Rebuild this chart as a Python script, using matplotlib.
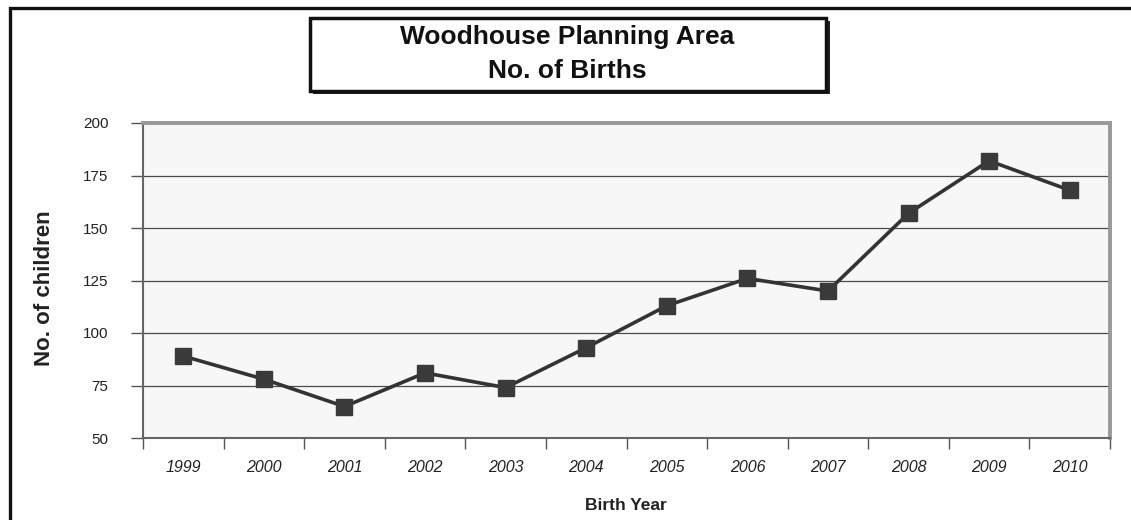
import matplotlib
matplotlib.use("Agg")
import matplotlib.pyplot as plt
from matplotlib.patches import Rectangle

years = ["1999", "2000", "2001", "2002", "2003", "2004", "2005", "2006", "2007", "2008", "2009", "2010"]
births = [89, 78, 65, 81, 74, 93, 113, 126, 120, 157, 182, 168]
yticks = [50, 75, 100, 125, 150, 175, 200]

title_lines = ["Woodhouse Planning Area", "No. of Births"]
xlabel = "Birth Year"
ylabel = "No. of children"

W, H = 1131, 520
fig = plt.figure(figsize=(W / 100, H / 100), dpi=100)
fig.patch.set_facecolor("white")

def fx(px):
    return px / W

def fy(py):
    return 1 - py / H

fam = ["Liberation Sans", "DejaVu Sans"]

# outer frame (right and bottom edges lie outside the picture)
fig.patches.append(Rectangle((fx(10), fy(560)), fx(1160) - fx(10), fy(8) - fy(560),
                             transform=fig.transFigure, fill=False, edgecolor="#111111",
                             linewidth=2.4, clip_on=False))

ax = fig.add_axes([fx(143), fy(438), fx(1110) - fx(143), fy(123) - fy(438)])
ax.set_facecolor("#f7f7f7")

x = list(range(len(years)))
ax.plot(x, births, color="#333333", linewidth=2.6, marker="s", markersize=11,
        markerfacecolor="#3a3a3a", markeredgecolor="#3a3a3a", zorder=3)

ax.set_xlim(-0.5, len(years) - 0.5)
ax.set_ylim(50, 200)
ax.set_yticks(yticks)
ax.set_yticklabels([str(v) for v in yticks], fontsize=11, color="#222222", family=fam)
ax.yaxis.grid(True, color="#4a4a4a", linewidth=0.9)
ax.set_axisbelow(True)

ax.set_xticks([i - 0.5 for i in range(len(years) + 1)], minor=False)
ax.set_xticklabels([""] * (len(years) + 1))
ax.set_xticks(x, minor=True)
ax.set_xticklabels(years, minor=True, fontsize=11.5, style="italic", color="#222222",
                   family=fam)
ax.tick_params(axis="x", which="major", length=8, width=1, color="#555555", direction="out")
ax.tick_params(axis="x", which="minor", length=0, pad=16)
ax.tick_params(axis="y", length=9, width=1, color="#555555", pad=16)

for side in ["left", "bottom"]:
    ax.spines[side].set_color("#666666")
    ax.spines[side].set_linewidth(1.5)
for side in ["top", "right"]:
    ax.spines[side].set_color("#999999")
    ax.spines[side].set_linewidth(2.8)

fig.text(fx(45), fy(288), ylabel, rotation=90, ha="center", va="center", fontsize=16,
         fontweight="bold", color="#222222", family=fam)
fig.text(fx(626), fy(506), xlabel, ha="center", va="center", fontsize=12.5,
         fontweight="bold", color="#222222", family=fam)

# title box with shadow
fig.patches.append(Rectangle((fx(313), fy(94)), fx(830) - fx(313), fy(21) - fy(94),
                             transform=fig.transFigure, facecolor="#222222",
                             edgecolor="none", clip_on=False))
fig.patches.append(Rectangle((fx(310), fy(91)), fx(826) - fx(310), fy(18) - fy(91),
                             transform=fig.transFigure, facecolor="white",
                             edgecolor="#111111", linewidth=2.5, clip_on=False))
fig.text(fx(567), fy(37), title_lines[0], ha="center", va="center", fontsize=19,
         fontweight="bold", color="#111111", family=fam)
fig.text(fx(567), fy(71), title_lines[1], ha="center", va="center", fontsize=19,
         fontweight="bold", color="#111111", family=fam)

fig.savefig("out.png", dpi=100, facecolor="white")
